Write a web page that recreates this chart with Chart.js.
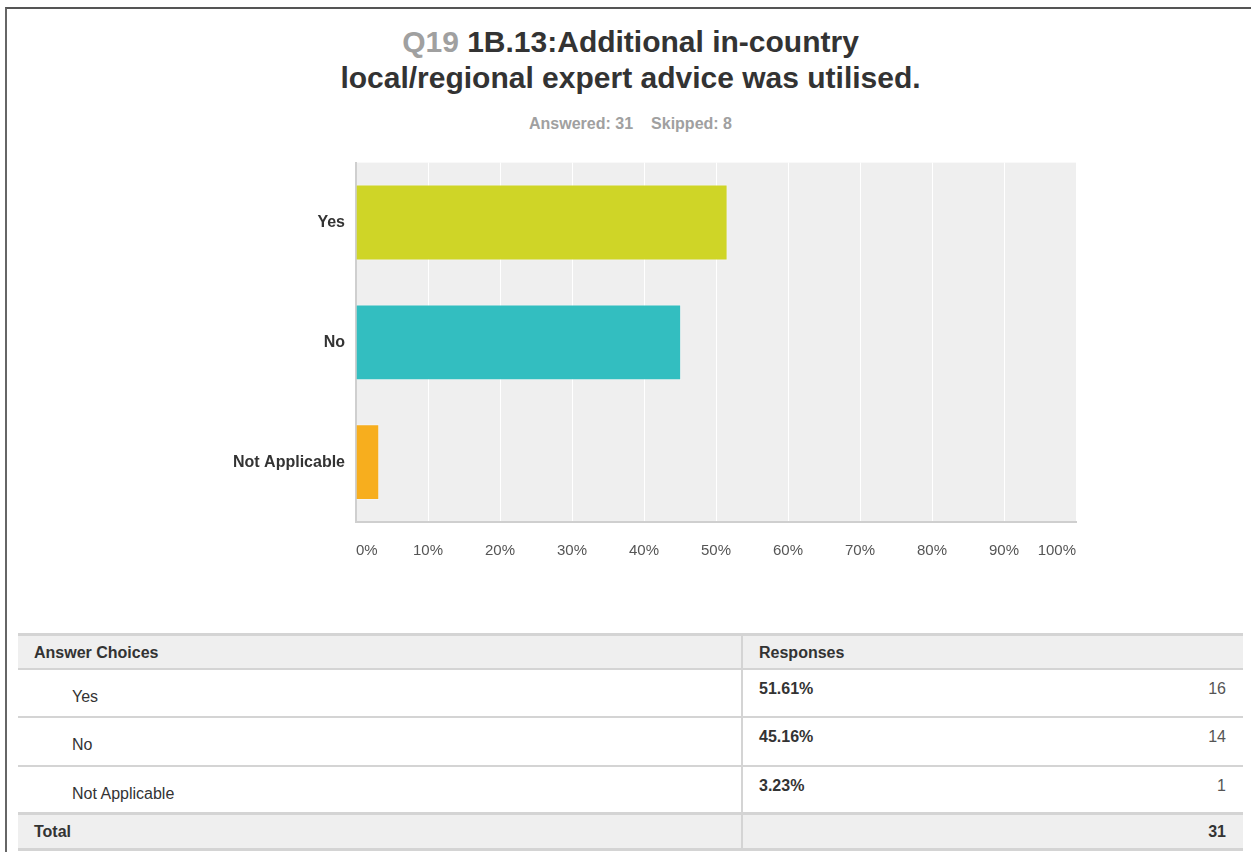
<!DOCTYPE html>
<html>
<head>
<meta charset="utf-8">
<script src="https://cdn.jsdelivr.net/npm/chart.js@4/dist/chart.umd.min.js"></script>
<style>
  html, body { margin: 0; padding: 0; background: #fff; }
  body { width: 1251px; height: 852px; position: relative; overflow: hidden; font-family: "Liberation Sans", Arial, sans-serif; }
  #frame { position: absolute; left: 5px; top: 7px; width: 1300px; height: 900px; border-top: 2px solid #555; border-left: 2px solid #666; }
  #title { position: absolute; left: 18px; width: 1225px; top: 24px; text-align: center; font-weight: bold; font-size: 30px; line-height: 36px; color: #333; }
  #title .q { color: #a0a0a0; }
  #sub { position: absolute; left: 18px; width: 1225px; top: 115px; text-align: center; font-weight: bold; font-size: 16px; color: #a0a0a0; }
  #sub span + span { margin-left: 18px; }
  #chartBox { position: absolute; left: 200px; top: 142px; width: 900px; height: 428px; }
  .row { position: absolute; left: 18px; width: 1225px; font-size: 16px; color: #333; }
  .cell { position: absolute; }
  .line { position: absolute; left: 18px; width: 1225px; height: 3px; background: #d4d4d4; }
  .vline { position: absolute; left: 741px; width: 2px; background: #d4d4d4; }
</style>
</head>
<body>
<div id="frame"></div>
<div id="title"><span class="q">Q19</span> 1B.13:Additional in-country<br>local/regional expert advice was utilised.</div>
<div id="sub"><span>Answered: 31</span><span>Skipped: 8</span></div>
<div id="chartBox"><canvas id="chart" width="900" height="428"></canvas></div>
<div id="table"></div>
<script>
var categories = ['Yes', 'No', 'Not Applicable'];
var percents = [51.61, 45.16, 3.23];
var counts = [16, 14, 1];
var barColors = ['#cfd527', '#33bec0', '#f7ae1e'];
var xTicks = [0, 10, 20, 30, 40, 50, 60, 70, 80, 90, 100];
var total = 31;

// grey plot background
var plotBg = {
  id: 'plotBg',
  beforeDraw: function(chart) {
    var a = chart.chartArea, ctx = chart.ctx;
    ctx.save();
    ctx.fillStyle = '#efefef';
    ctx.fillRect(a.left, a.top, a.right - a.left, a.bottom - a.top);
    ctx.restore();
  }
};

var ctx = document.getElementById('chart').getContext('2d');
var chart = new Chart(ctx, {
  type: 'bar',
  data: {
    labels: categories,
    datasets: [{
      data: percents,
      backgroundColor: barColors,
      borderColor: 'rgba(255,255,255,0.35)',
      borderWidth: 1,
      categoryPercentage: 1,
      barPercentage: 0.633
    }]
  },
  options: {
    indexAxis: 'y',
    responsive: false,
    animation: false,
    layout: { padding: { top: 4, right: 24, left: 0, bottom: 0 } },
    plugins: { legend: { display: false }, title: { display: false }, tooltip: { enabled: false } },
    scales: {
      x: {
        min: 0, max: 100,
        afterBuildTicks: function(scale) { scale.ticks = xTicks.map(function(v) { return { value: v }; }); },
        afterFit: function(scale) { scale.height = 48; },
        grid: { color: '#ffffff', lineWidth: 1, drawTicks: false },
        border: { display: true, color: '#cfcfcf', width: 2 },
        ticks: {
          align: 'inner',
          padding: 20,
          color: '#555',
          font: { family: '"Liberation Sans", Arial, sans-serif', size: 15 },
          callback: function(v) { return v + '%'; }
        }
      },
      y: {
        afterFit: function(scale) { scale.width = 156; },
        grid: { display: false, drawTicks: false },
        border: { display: true, color: '#cfcfcf', width: 2 },
        ticks: {
          padding: 11,
          color: '#333',
          font: { family: '"Liberation Sans", Arial, sans-serif', size: 16, weight: 'bold' }
        }
      }
    }
  },
  plugins: [plotBg]
});

// response table
var tbl = document.getElementById('table');
function add(html) { tbl.insertAdjacentHTML('beforeend', html); }
var rowTops = [670, 718, 767];
var rowH = [46, 47, 45];
add('<div class="line" style="top:633px"></div>');
add('<div class="row" style="top:636px;height:32px;background:#efefef;font-weight:bold;">' +
    '<div class="cell" style="left:16px;top:8px;">Answer Choices</div>' +
    '<div class="cell" style="left:741px;top:8px;">Responses</div></div>');
add('<div class="line" style="top:668px;height:2px"></div>');
for (var i = 0; i < categories.length; i++) {
  var t = rowTops[i];
  add('<div class="row" style="top:' + t + 'px;height:' + rowH[i] + 'px;">' +
      '<div class="cell" style="left:54px;top:18px;">' + categories[i] + '</div>' +
      '<div class="cell" style="left:741px;top:10px;font-weight:bold;">' + percents[i].toFixed(2) + '%</div>' +
      '<div class="cell" style="right:17px;top:10px;color:#555;">' + counts[i] + '</div></div>');
  add('<div class="line" style="top:' + (t + rowH[i]) + 'px;height:' + (i == 2 ? 3 : 2) + 'px"></div>');
}
add('<div class="row" style="top:815px;height:33px;background:#efefef;font-weight:bold;">' +
    '<div class="cell" style="left:16px;top:8px;">Total</div>' +
    '<div class="cell" style="right:17px;top:8px;">' + total + '</div></div>');
add('<div class="line" style="top:848px"></div>');
add('<div class="vline" style="top:636px;height:212px"></div>');
</script>
</body>
</html>
